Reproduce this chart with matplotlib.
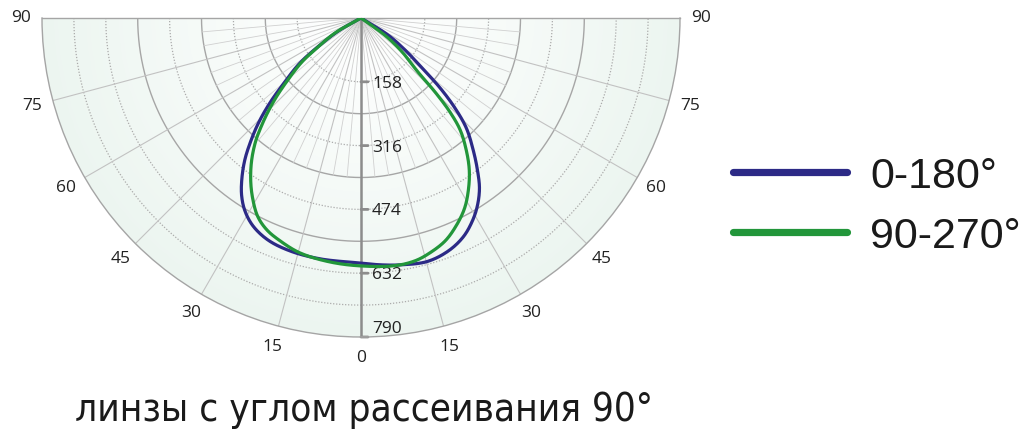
import numpy as np
import matplotlib
matplotlib.use("Agg")
import matplotlib.pyplot as plt
from matplotlib import font_manager
from matplotlib.colors import LinearSegmentedColormap
from matplotlib.lines import Line2D
import matplotlib.transforms as mtransforms

# ---------------- data ----------------
series_names = ["0-180°", "90-270°"]
series_colors = ["#2c2a86", "#22963a"]

# angles in degrees (negative = left half, positive = right half), candela values
blue_angles = [-90, -60.3, -56.6, -53.6, -49.8, -47.0, -44.4, -41.8, -39.2, -36.3, -33.9, -31.1,
               -27.5, -22.8, -17.0, -9.7, 0,
               4.4, 9.0, 15.2, 20.6, 25.1, 28.8, 31.8, 34.8, 37.4, 40.3, 43.7, 46.2, 48.5,
               50.7, 54.0, 57.8, 90]
blue_values = [0, 60, 122, 188, 250, 309, 362, 410, 456, 499, 530, 557,
               580, 596, 603, 605, 607,
               613, 619, 625, 616, 598, 573, 547, 514, 475, 430, 378, 323, 262,
               196, 135, 79, 0]

green_angles = [-90, -60.0, -56.0, -53.3, -49.7, -47.1, -44.7, -42.5, -40.5, -37.5, -34.2, -31.0,
                -27.5, -24.0, -20.0, -14.6, -7.3, 0,
                7.8, 12.6, 16.4, 20.7, 24.6, 28.5, 31.9, 35.4, 38.5, 41.5, 43.4, 45.0,
                46.5, 50.2, 53.8, 90]
green_values = [0, 75, 129, 183, 238, 285, 328, 367, 402, 445, 486, 521,
                554, 574, 587, 601, 609, 614,
                619, 616, 606, 590, 566, 537, 503, 463, 419, 371, 321, 260,
                195, 136, 80, 0]

r_max = 790
r_ticks = [158, 316, 474, 632, 790]
solid_rings = [237, 395, 553]
dotted_rings = [158, 316, 474, 632, 711]
angle_labels = [0, 15, 30, 45, 60, 75, 90]
title_text = "линзы с углом рассеивания 90°"

# ---------------- fonts ----------------
names = {f.name for f in font_manager.fontManager.ttflist}
def pick(*cands):
    for c in cands:
        if c in names:
            return c
    return "DejaVu Sans"

label_font = pick("Open Sans", "Noto Sans", "Lato", "DejaVu Sans")
legend_font = pick("Liberation Sans", "Roboto", "DejaVu Sans")
if "Liberation Sans Narrow" in names:
    title_kw = dict(family="Liberation Sans Narrow")
elif any(f.name == "DejaVu Sans" and f.stretch == "condensed" for f in font_manager.fontManager.ttflist):
    title_kw = dict(family="DejaVu Sans", fontstretch="condensed")
else:
    title_kw = dict(family=pick("Roboto", "Liberation Sans"))


def smooth_polar(angles_deg, values, n=24):
    """Centripetal Catmull-Rom smoothing of the drawn line (rendering only)."""
    t = np.deg2rad(np.asarray(angles_deg, float))
    r = np.asarray(values, float)
    P = np.column_stack([r * np.sin(t), -r * np.cos(t)])
    P = np.vstack([2 * P[0] - P[1], P, 2 * P[-1] - P[-2]])
    out = []
    for i in range(1, len(P) - 2):
        p0, p1, p2, p3 = P[i - 1], P[i], P[i + 1], P[i + 2]
        def tj(ti, a, b):
            return ti + max(np.linalg.norm(b - a), 1e-6) ** 0.5
        t0 = 0.0
        t1 = tj(t0, p0, p1)
        t2 = tj(t1, p1, p2)
        t3 = tj(t2, p2, p3)
        ts = np.linspace(t1, t2, n, endpoint=False)[:, None]
        A1 = (t1 - ts) / (t1 - t0) * p0 + (ts - t0) / (t1 - t0) * p1
        A2 = (t2 - ts) / (t2 - t1) * p1 + (ts - t1) / (t2 - t1) * p2
        A3 = (t3 - ts) / (t3 - t2) * p2 + (ts - t2) / (t3 - t2) * p3
        B1 = (t2 - ts) / (t2 - t0) * A1 + (ts - t0) / (t2 - t0) * A2
        B2 = (t3 - ts) / (t3 - t1) * A2 + (ts - t1) / (t3 - t1) * A3
        C = (t2 - ts) / (t2 - t1) * B1 + (ts - t1) / (t2 - t1) * B2
        out.append(C)
    out.append(P[-2][None, :])
    C = np.vstack(out)
    rr = np.hypot(C[:, 0], C[:, 1])
    th = np.arctan2(C[:, 0], -C[:, 1])
    return th, rr


# ---------------- figure ----------------
W, H = 1024, 447
fig = plt.figure(figsize=(W / 100, H / 100), dpi=100)
cx, cy, R = 361, 18, 319
sq_center_y = cy + R / 2
ax = fig.add_axes([(cx - R) / W, (H - (sq_center_y + R)) / H, 2 * R / W, 2 * R / H], projection="polar")
ax.set_theta_zero_location("S")
ax.set_thetamin(-90)
ax.set_thetamax(90)
ax.set_rlim(0, r_max)
ax.set_xticks([])
ax.set_yticks([])
ax.grid(False)
for name, sp in ax.spines.items():
    sp.set_color("#a5a5a5")
    sp.set_linewidth(1.0)

# background radial gradient
cmap = LinearSegmentedColormap.from_list("bg", ["#ffffff", "#ecf5f0"])
th = np.linspace(-np.pi / 2, np.pi / 2, 181)
rr = np.linspace(0, r_max, 80)
TH, RR = np.meshgrid(th, rr)
ax.pcolormesh(TH, RR, RR[:-1, :-1] / r_max, cmap=cmap, shading="flat", zorder=0, rasterized=True)

full = np.linspace(-np.pi / 2, np.pi / 2, 400)
for r in solid_rings:
    ax.plot(full, np.full_like(full, r), color="#a6a6a6", lw=1.0, zorder=1)
for r in dotted_rings:
    ax.plot(full, np.full_like(full, r), color="#ababab", lw=0.9, ls=(0, (1, 1.4)), zorder=1)

# spokes
for a in range(-85, 90, 5):
    t = np.deg2rad(a)
    if a % 15 == 0:
        if a != 0:
            ax.plot([t, t], [0, r_max], color="#c2c2c2", lw=0.8, zorder=1)
    else:
        ax.plot([t, t], [0, 395], color="#d0d0d0", lw=0.6, zorder=1)

# radial axis with ticks
ax.plot([0, 0], [0, r_max], color="#8c8c8c", lw=1.8, zorder=2)
for v in r_ticks:
    ax.annotate("", xy=(0, v), xytext=(7, 0), textcoords="offset pixels",
                arrowprops=dict(arrowstyle="-", color="#8c8c8c", lw=2, shrinkA=0, shrinkB=0),
                zorder=2, annotation_clip=False)
    yoff = 8 if v == r_max else -2
    ax.text(0, v, str(v), transform=mtransforms.offset_copy(ax.transData, fig=fig, x=11, y=yoff, units="dots"),
            ha="left", va="center", fontsize=12.5, family=label_font, color="#222222", zorder=3)

# angle labels
for a in angle_labels:
    for s in ([1] if a == 0 else [-1, 1]):
        ax.text(np.deg2rad(s * a), 843, str(a), ha="center", va="center", fontsize=12.5,
                family=label_font, color="#222222", clip_on=False)

# curves (smoothly drawn through the read points)
bt, br = smooth_polar(blue_angles, blue_values)
gt, gr = smooth_polar(green_angles, green_values)
ax.plot(bt, br, color=series_colors[0], lw=2.3, zorder=4, solid_joinstyle="round")
ax.plot(gt, gr, color=series_colors[1], lw=2.3, zorder=5, solid_joinstyle="round")

# legend
for i, (nm, col) in enumerate(zip(series_names, series_colors)):
    y = H - (172 + 60 * i)
    fig.add_artist(Line2D([733 / W, 847 / W], [y / H, y / H], transform=fig.transFigure,
                          color=col, lw=5.2, solid_capstyle="round"))
    fig.text(870 / W, y / H, nm, ha="left", va="center_baseline", fontsize=31,
             family=legend_font, color="#1a1a1a")

# title
t = fig.text(364 / W, (H - 410) / H, title_text, ha="center", va="center", fontsize=30,
             color="#1a1a1a", **title_kw)
fig.canvas.draw()
w = t.get_window_extent().width
t.set_fontsize(30 * 578 / w)

fig.savefig("out.png", dpi=100)
